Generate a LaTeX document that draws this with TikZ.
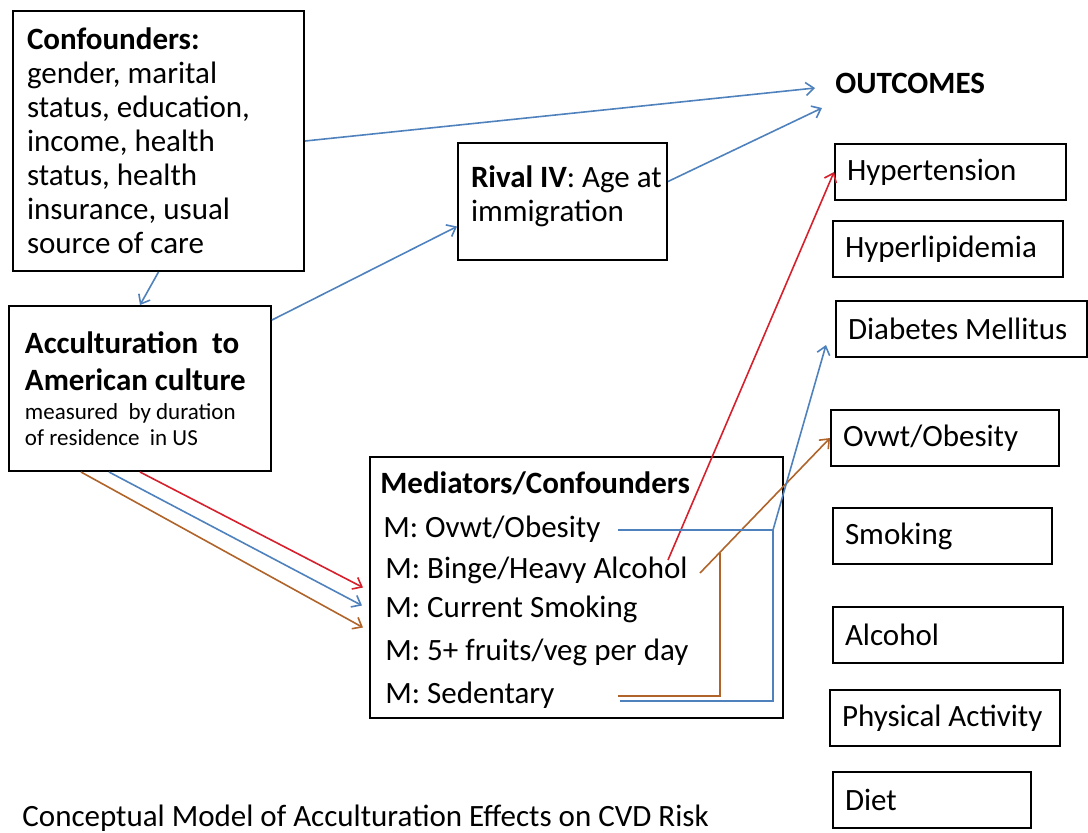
\documentclass[tikz,border=0pt]{standalone}
\usepackage{fontspec}
\setmainfont{Carlito}
\usetikzlibrary{arrows.meta}
\definecolor{lnblue}{RGB}{79,129,189}
\definecolor{lnred}{RGB}{214,32,44}
\definecolor{lnbrown}{RGB}{176,100,42}

\begin{document}
\begin{tikzpicture}[x=0.5pt,y=-0.5pt,font=\fontsize{15.5}{17}\selectfont,
  >={Straight Barb[length=4pt,width=6.5pt]},
  box/.style={draw,line width=1pt,anchor=north west,align=flush left},
  outbox/.style={box,inner xsep=6pt,minimum height=28pt,text width=#1},
  item/.style={anchor=base west,inner sep=0pt},
  bl/.style={lnblue,line width=0.8pt},
  rd/.style={lnred,line width=0.8pt},
  br/.style={lnbrown,line width=0.8pt}]
\useasboundingbox (0,0) rectangle (1088,832);
% left column
\node[box,inner xsep=7pt,text width=131.5pt,minimum height=130pt] (conf) at (12,10)
  {\textbf{Confounders:}\\gender, marital\\status, education,\\income, health\\status, health\\insurance, usual\\source of care};
\node[box,inner xsep=8pt,text width=115pt,minimum height=82.5pt] (accult) at (8,305)
  {\textbf{Acculturation\ \ to}\\[1.5pt]\textbf{American culture}\\[-2.5pt]%
   {\fontsize{11.5}{17}\selectfont\mbox{measured\ \ by duration}\\[-4pt]\mbox{of residence\ \ in US}}};
\node[box,inner xsep=6.5pt,text width=91.5pt,minimum height=58.5pt] (rival) at (457,142)
  {\mbox{\textbf{Rival IV}: Age at}\\immigration\\[-9pt]\mbox{}};
% mediators
\node[box,minimum width=206.5pt,minimum height=130.5pt] (med) at (369,456) {};
\node[item] (mt) at (380,493) {\textbf{Mediators/Confounders}};
\node[item] (mo) at (383,537) {M: Ovwt/Obesity};
\node[item] (ma) at (385,578) {M: Binge/Heavy Alcohol};
\node[item] (mc) at (385,617) {M: Current Smoking};
\node[item] (mf) at (385,660) {M: 5+ fruits/veg per day};
\node[item] (ms) at (385,703) {M: Sedentary};
% outcomes
\node[item] (outc) at (835,93) {\textbf{OUTCOMES}};
\node[outbox=103.5pt] (hyp) at (834,143) {Hypertension};
\node[outbox=103pt] (hyl) at (832,220) {Hyperlipidemia};
\node[outbox=113.5pt] (dia) at (835,300) {Diabetes Mellitus};
\node[outbox=102pt] (obe) at (830,409) {Ovwt/Obesity};
\node[outbox=97.5pt] (smk) at (832,507) {Smoking};
\node[outbox=103pt] (alc) at (832,606) {Alcohol};
\node[outbox=103pt] (phy) at (829,689) {\mbox{Physical Activity}};
\node[outbox=87pt] (diet) at (832,771) {Diet};
\node[item] (capt) at (22,826) {Conceptual Model of Acculturation Effects on CVD Risk};
% free ends
\coordinate (o1) at (815,88);
\coordinate (o2) at (822,108);
\coordinate (bo) at (618,530);
\coordinate (bj) at (773,530);
\coordinate (bk) at (773,701);
\coordinate (bs) at (620,701);
\coordinate (rs) at (618,696);
\coordinate (rk) at (720,696);
\coordinate (rj) at (720,553);
\coordinate (ra) at (700,573);
\coordinate (ha) at (668,560);
\coordinate (dt) at (826,345);
% arrows
\draw[bl,->] (conf.east) -- (o1);
\draw[bl,->] ([yshift=10pt]rival.east) -- (o2);
\draw[bl,->] (conf.south) -- (accult.north);
\draw[bl,->] ([yshift=-7.5pt]accult.north east) -- ([yshift=-12.5pt]rival.west);
\draw[rd,->] (accult.south) -- ([xshift=-3pt]med.west);
\draw[bl,->] ([xshift=-15.5pt]accult.south) -- ([xshift=-3.5pt,yshift=-9pt]med.west);
\draw[br,->] ([xshift=-29.5pt]accult.south) -- ([xshift=-3pt,yshift=-20pt]med.west);
\draw[rd,->] (ha) -- (hyp.west);
\draw[br,->] (ra) -- (obe.west);
\draw[br] (rs) -- (rk) -- (rj);
\draw[bl] (bo) -- (bj) -- (bk) -- (bs);
\draw[bl,->] (bj) -- (dt);
\end{tikzpicture}
\end{document}
